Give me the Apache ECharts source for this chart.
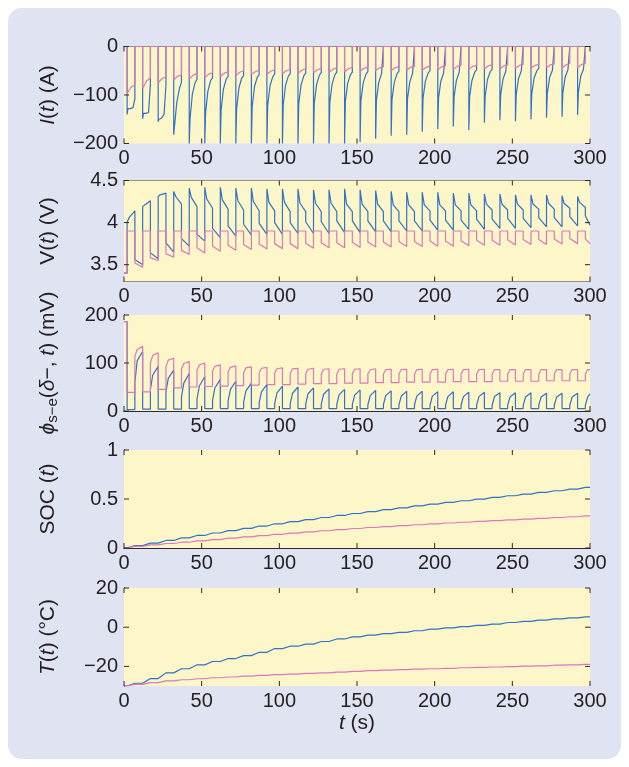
<!DOCTYPE html>
<html><head><meta charset="utf-8">
<script src="https://cdn.jsdelivr.net/npm/echarts@6/dist/echarts.min.js"></script>
<style>html,body{margin:0;padding:0;background:#fff}#c{width:629px;height:767px}</style>
</head><body><div id="c"></div>
<script>
// ---- pulse timing (s) ----
const T_ON  = [2,12,22,32,42,52,62,72,82,92,102,112,122,132,142,152,162,172,182,192,202,212,222,232,242,252,262,272,282,292];
const T_OFF = [7,17,27,37,47,57,67,77,87,97,107,117,127,137,147,157,167,177,187,197,207,217,227,237,247,257,267,277,287,297];
const T_END = 300;
const X_TICKS = [0,50,100,150,200,250,300];

// ---- I(t) (A) ----
const B_I_SPIKE = [-140,-149,-155,-182,-200,-200,-200,-200,-200,-200,-200,-200,-200,-200,-200,-197,-190,-184,-182,-176,-170,-165,-172,-157,-152,-154,-150,-147,-145,-141];
const B_I_S = [-128,-138,-150,-165,-150,-138,-132,-128,-125,-122,-120,-118,-116,-115,-114,-112,-111,-110,-108,-107,-106,-104,-104,-102,-100,-99,-98,-97,-96,-95];
const B_I_M = [-128,-138,-148,-115,-98,-92,-88,-85,-83,-81,-80,-79,-78,-77,-76,-75,-74,-74,-73,-72,-71,-70,-70,-68,-67,-66,-65,-64,-63,-62];
const B_I_N = [-126,-136,-140,-85,-74,-70,-67,-65,-63,-62,-61,-60,-59,-58,-58,-57,-56,-56,-55,-55,-54,-53,-53,-52,-51,-50,-50,-49,-48,-47];
const B_I_E = [-108,-77,-80,-74,-68,-64,-62,-60,-58,-57,-56,-55,-54,-53,-53,-52,-52,-51,-51,-50,-50,-49,-48,-47,-47,-46,-45,-45,-44,-43];
const P_I_S = [-97,-86,-75,-69,-67,-64,-62,-60,-58,-57,-56,-55,-54,-53,-52,-51,-50,-50,-49,-49,-48,-47,-47,-46,-46,-45,-45,-44,-44,-44];
const P_I_M = [-84,-71,-66,-61,-59,-57,-55,-53,-52,-51,-50,-49,-48,-47,-46,-45,-44,-44,-43,-43,-42,-41,-41,-40,-40,-39,-39,-38,-38,-37];
const P_I_E = [-79,-65,-63,-59,-56,-54,-52,-50,-49,-48,-47,-46,-45,-44,-43,-43,-42,-41,-41,-40,-40,-39,-39,-38,-38,-37,-37,-36,-35,-35];

// ---- V(t) (V) ----
const V_START = 3.40;
const B_V_H = [4.00,4.19,4.31,4.37,4.41,4.42,4.42,4.41,4.41,4.40,4.40,4.40,4.39,4.39,4.40,4.39,4.38,4.37,4.36,4.36,4.36,4.35,4.35,4.34,4.34,4.33,4.33,4.33,4.32,4.31];
const B_V_K = [4.06,4.21,4.33,4.31,4.30,4.28,4.27,4.26,4.25,4.24,4.24,4.23,4.23,4.23,4.22,4.22,4.22,4.21,4.21,4.21,4.21,4.21,4.21,4.22,4.22,4.22,4.22,4.23,4.23,4.24];
const B_V_E = [4.14,4.26,4.35,4.22,4.19,4.17,4.16,4.15,4.14,4.14,4.13,4.13,4.13,4.13,4.13,4.13,4.13,4.13,4.13,4.14,4.14,4.14,4.14,4.15,4.15,4.15,4.16,4.16,4.17,4.18];
const B_V_R = [3.56,3.64,3.76,3.81,3.86,3.93,3.96,3.98,3.99,4.00,4.00,4.01,4.01,4.02,4.02,4.02,4.02,4.02,4.02,4.03,4.03,4.03,4.04,4.04,4.05,4.05,4.06,4.06,4.07,4.08];
const B_V_L = [3.50,3.57,3.65,3.72,3.78,3.82,3.84,3.85,3.86,3.86,3.87,3.87,3.87,3.88,3.88,3.89,3.89,3.90,3.90,3.91,3.91,3.92,3.92,3.93,3.93,3.94,3.95,3.95,3.96,3.97];
const P_V_LIMIT = 3.90;
const P_V_R = [3.52,3.58,3.63,3.67,3.70,3.72,3.73,3.74,3.745,3.75,3.75,3.755,3.76,3.76,3.765,3.77,3.77,3.775,3.775,3.78,3.78,3.785,3.79,3.79,3.795,3.80,3.80,3.805,3.81,3.81];
const P_V_L = [3.47,3.55,3.59,3.62,3.64,3.66,3.67,3.68,3.685,3.69,3.69,3.695,3.70,3.70,3.705,3.71,3.71,3.715,3.715,3.72,3.72,3.725,3.73,3.73,3.735,3.74,3.74,3.745,3.75,3.75];

// ---- phi_s-e (mV) ----
const PHI_START = 186;
const B_PHI_LOW  = [3,4,4,4,5,5,5,5,5,5,5,5,5,5,5,5,5,5,5,5,5,5,5,5,5,5,5,5,5,5];
const B_PHI_R    = [60,45,40,30,25,22,20,18,17,16,15,15,14,14,14,13,13,13,13,12,12,12,12,12,12,12,12,12,12,12];
const B_PHI_Q    = [105,75,68,58,52,48,45,42,40,38,37,36,35,34,33,32,32,31,31,31,30,30,30,30,29,29,29,29,29,29];
const B_PHI_PEAK = [124,93,85,78,72,66,62,58,55,52,50,48,46,45,44,43,42,41,41,40,40,39,39,38,38,38,37,37,37,36];
const P_PHI_LOW  = [39,40,45,48,50,51,52,53,54,55,55,56,57,57,58,58,59,59,60,60,60,61,61,61,62,62,62,63,63,63];
const P_PHI_R    = [114,100,92,87,85,83,81,80,79,79,78,78,77,77,77,77,77,77,77,77,77,77,77,77,77,77,77,77,77,77];
const P_PHI_Q    = [128,116,106,99,96,93,91,90,89,88,88,87,87,87,87,86,86,86,86,86,86,86,86,86,86,86,86,86,86,86];
const P_PHI_PEAK = [135,121,110,103,100,96,94,92,91,90,89,89,88,88,88,88,87,87,87,87,87,87,87,86,86,86,86,86,86,86];

// ---- SOC (after each pulse) ----
const B_SOC = [0.024,0.050,0.077,0.103,0.128,0.153,0.177,0.201,0.224,0.247,0.269,0.290,0.311,0.332,0.352,0.372,0.391,0.410,0.429,0.447,0.465,0.482,0.499,0.516,0.533,0.550,0.567,0.584,0.601,0.618];
const P_SOC = [0.017,0.032,0.046,0.059,0.072,0.086,0.100,0.114,0.127,0.140,0.152,0.164,0.176,0.188,0.199,0.209,0.219,0.228,0.237,0.246,0.255,0.263,0.271,0.279,0.287,0.295,0.303,0.311,0.319,0.327];

// ---- T (degC, after each pulse) ----
const T_START = -30;
const B_T = [-28.6,-26.2,-23.3,-21.2,-19.2,-17.5,-16.0,-14.5,-12.8,-10.9,-9.7,-8.6,-7.3,-6.0,-4.9,-4.0,-3.3,-2.6,-1.8,-1.0,-0.3,0.3,0.9,1.6,2.4,3.0,3.6,4.2,4.8,5.3];
const P_T = [-29.2,-28.3,-27.4,-26.8,-26.3,-25.8,-25.4,-25.0,-24.6,-24.2,-23.9,-23.6,-23.3,-22.9,-22.5,-22.2,-21.9,-21.6,-21.4,-21.2,-21.0,-20.7,-20.5,-20.3,-20.1,-19.9,-19.7,-19.4,-19.2,-19.0];

// ---- build step/pulse paths from per-pulse values ----
function build(init, tpl){
  const pts = init.slice();
  for (let k=0;k<T_ON.length;k++){
    const next = k+1<T_ON.length ? T_ON[k+1] : T_END;
    for (const [ref,dt,src] of tpl){
      const base = ref==='on'?T_ON[k]:(ref==='off'?T_OFF[k]:next);
      pts.push([base+dt, Array.isArray(src)?src[k]:src]);
    }
  }
  return pts;
}
const blueI = build([[0,0]], [['on',0,0],['on',0,B_I_SPIKE],['on',0.5,B_I_S],['on',2,B_I_M],['on',3.8,B_I_N],['off',0,B_I_E],['off',0,0],['next',0,0]]);
const pinkI = build([[0,0]], [['on',0,0],['on',0,P_I_S],['on',2.5,P_I_M],['off',0,P_I_E],['off',0,0],['next',0,0]]);
const blueV = build([[0,V_START],[T_ON[0],V_START]], [['on',0,B_V_H],['on',0.8,B_V_H],['on',1.3,B_V_K],['off',0,B_V_E],['off',0,B_V_R],['next',0,B_V_L]]);
const pinkV = build([[0,V_START],[T_ON[0],V_START]], [['on',0,P_V_LIMIT],['off',0,P_V_LIMIT],['off',0,P_V_R],['next',0,P_V_L]]);
const bluePhi = build([[0,PHI_START],[T_ON[0],PHI_START]], [['on',0,B_PHI_LOW],['off',0,B_PHI_LOW],['off',0,B_PHI_R],['off',1.5,B_PHI_Q],['next',0,B_PHI_PEAK]]);
const pinkPhi = build([[0,PHI_START],[T_ON[0],PHI_START]], [['on',0,P_PHI_LOW],['off',0,P_PHI_LOW],['off',0,P_PHI_R],['off',1.5,P_PHI_Q],['next',0,P_PHI_PEAK]]);
const blueSOC = build([[0,0],[T_ON[0],0]], [['off',0,B_SOC],['next',0,B_SOC]]);
const pinkSOC = build([[0,0],[T_ON[0],0]], [['off',0,P_SOC],['next',0,P_SOC]]);
const blueT = build([[0,T_START],[T_ON[0],T_START]], [['off',0,B_T],['next',0,B_T]]);
const pinkT = build([[0,T_START],[T_ON[0],T_START]], [['off',0,P_T],['next',0,P_T]]);

// ---- layout / style ----
const FONT = "'Liberation Sans', Arial, Helvetica, sans-serif";
const TXT = '#231f20';
const FRAME = '#2a2a2a';
const BLUE = '#2f72c8';
const PINK = '#da78bb';
const PANELS = [
  {top:46.5, height:97,  min:-200, max:0,   labels:[-200,-100,0], name:'{i|I}{n|(}{i|t}{n|) (A)}', s:[blueI,pinkI]},
  {top:180.5,height:101, min:3.3,  max:4.5, labels:[3.5,4,4.5],   name:'{n|V(}{i|t}{n|) (V)}', s:[blueV,pinkV]},
  {top:315,  height:96,  min:0,    max:200, labels:[0,100,200],   name:'{i|ϕ}{sub|s−e}{n|(}{i|δ}{n|−, }{i|t}{n|) (mV)}', s:[bluePhi,pinkPhi]},
  {top:450,  height:98,  min:0,    max:1,   labels:[0,0.5,1],     name:'{n|SOC (}{i|t}{n|)}', s:[blueSOC,pinkSOC]},
  {top:588,  height:98,  min:-30,  max:20,  labels:[-20,0,20],    name:'{i|T}{n|(}{i|t}{n|) (°C)}', s:[blueT,pinkT]}
];
const rich = {
  n:{fontFamily:FONT,fontSize:21,color:TXT,lineHeight:24,verticalAlign:'middle'},
  i:{fontFamily:FONT,fontSize:21,color:TXT,fontStyle:'italic',lineHeight:24,verticalAlign:'middle'},
  sub:{fontFamily:FONT,fontSize:15,color:TXT,lineHeight:15,verticalAlign:'bottom'}
};
const fmt = v => String(v).replace('-', '−');
const axLine = {show:true, lineStyle:{color:FRAME, width:1}};
const TICK_LEN = 5;
const grid=[], xAxis=[], yAxis=[], series=[];
PANELS.forEach((p,i)=>{
  grid.push({left:124, width:466, top:p.top, height:p.height, show:true, backgroundColor:'#fdf6c9', borderWidth:0, z:1});
  const last = i===PANELS.length-1;
  xAxis.push({gridIndex:i, type:'value', position:'bottom', min:0, max:300, interval:50,
    axisLine:axLine, axisTick:{show:false}, splitLine:{show:false},
    axisLabel:{color:TXT, fontFamily:FONT, fontSize:20, margin:5, customValues:X_TICKS},
    name: last ? '{i|t}{n| (s)}' : '', nameLocation:'middle', nameGap:25, nameTextStyle:{rich}});
  xAxis.push({gridIndex:i, type:'value', position:'top', min:0, max:300,
    axisLine:axLine, axisTick:{show:false}, axisLabel:{show:false}, splitLine:{show:false}});
  yAxis.push({gridIndex:i, type:'value', position:'left', min:p.min, max:p.max,
    axisLine:axLine, axisTick:{show:false}, splitLine:{show:false},
    axisLabel:{color:TXT, fontFamily:FONT, fontSize:20, margin:6, customValues:p.labels, formatter:fmt},
    name:p.name, nameLocation:'middle', nameRotate:90, nameGap:64, nameTextStyle:{rich}});
  yAxis.push({gridIndex:i, type:'value', position:'right', min:p.min, max:p.max,
    axisLine:axLine, axisTick:{show:false}, axisLabel:{show:false}, splitLine:{show:false}});
  [BLUE,PINK].forEach((c,j)=>{
    series.push({type:'line', xAxisIndex:2*i, yAxisIndex:2*i, data:p.s[j], showSymbol:false, symbol:'none',
      lineStyle:{color:c, width:1.2}, animation:false, clip:true, z:3+j});
  });
  // inward tick marks on all four sides (positions from the axes' own scales)
  const tickData = X_TICKS.map(v=>[0,v]).concat(p.labels.map(v=>[1,v]));
  series.push({type:'custom', xAxisIndex:2*i, yAxisIndex:2*i, data:tickData, silent:true, clip:false, z:6, animation:false,
    renderItem:(params, api)=>{
      const cs = params.coordSys, kind = api.value(0), v = api.value(1);
      const st = {stroke:FRAME, lineWidth:1};
      if (kind===0){
        const x = api.coord([v, p.min])[0];
        return {type:'group', children:[
          {type:'line', shape:{x1:x,y1:cs.y+cs.height,x2:x,y2:cs.y+cs.height-TICK_LEN}, style:st},
          {type:'line', shape:{x1:x,y1:cs.y,x2:x,y2:cs.y+TICK_LEN}, style:st}]};
      }
      const y = api.coord([0, v])[1];
      return {type:'group', children:[
        {type:'line', shape:{x1:cs.x,y1:y,x2:cs.x+TICK_LEN,y2:y}, style:st},
        {type:'line', shape:{x1:cs.x+cs.width,y1:y,x2:cs.x+cs.width-TICK_LEN,y2:y}, style:st}]};
    }});
});
const chart = echarts.init(document.getElementById('c'), null, {renderer:'canvas'});
chart.setOption({
  backgroundColor:'#ffffff', animation:false,
  graphic:[{type:'rect', z:-10, shape:{x:8,y:8,width:613,height:751,r:14}, style:{fill:'#dfe3f2'}}],
  grid, xAxis, yAxis, series
});
</script></body></html>
